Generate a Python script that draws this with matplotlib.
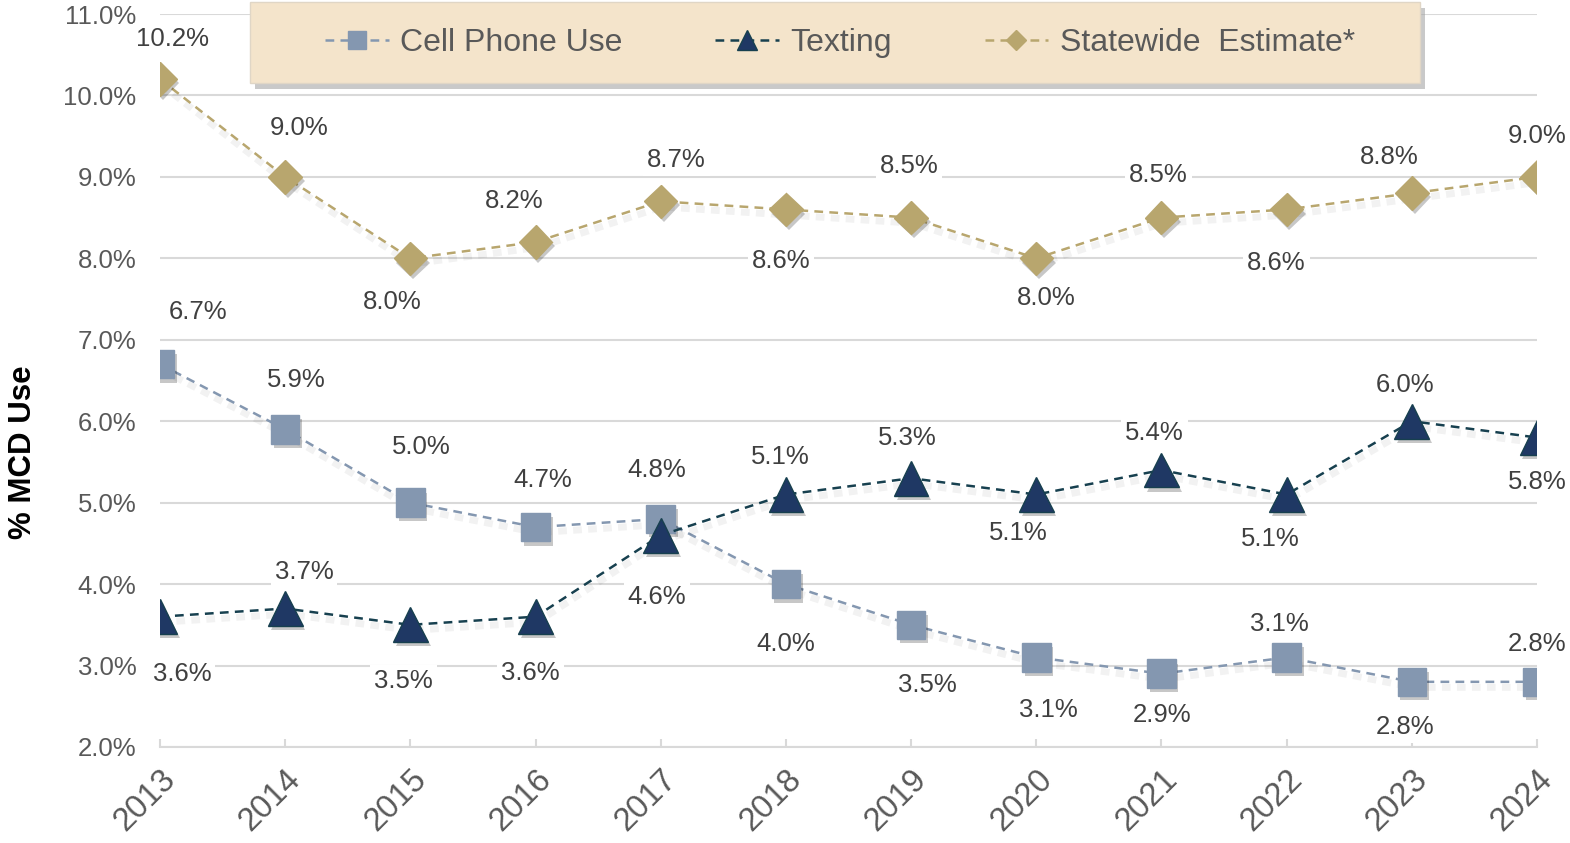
import matplotlib
matplotlib.use("Agg")
import matplotlib.pyplot as plt
import matplotlib.patheffects as pe
from matplotlib.patches import Rectangle
from matplotlib.lines import Line2D
from matplotlib.transforms import ScaledTranslation

plt.rcParams["font.family"] = ["Liberation Sans", "DejaVu Sans"]

years = [2013, 2014, 2015, 2016, 2017, 2018, 2019, 2020, 2021, 2022, 2023, 2024]
cell_phone = [6.7, 5.9, 5.0, 4.7, 4.8, 4.0, 3.5, 3.1, 2.9, 3.1, 2.8, 2.8]
texting = [3.6, 3.7, 3.5, 3.6, 4.6, 5.1, 5.3, 5.1, 5.4, 5.1, 6.0, 5.8]
statewide = [10.2, 9.0, 8.0, 8.2, 8.7, 8.6, 8.5, 8.0, 8.5, 8.6, 8.8, 9.0]

# label offsets in pixels (dx, dy; dy positive = up)
cell_off = [(38, 52), (11, 49), (11, 56), (7, 47), (-4, 49), (0, -60),
            (16, -60), (12, -53), (1, -41), (-7, 33), (-7, -45), (0, 38)]
text_off = [(22, -57), (19, 37), (-7, -56), (-5, -56), (-4, -62), (-6, 38),
            (-4, 40), (-18, -38), (-7, 37), (-16, -44), (-7, 36), (0, -44)]
state_off = [(13, 40), (14, 49), (-18, -44), (-21, 41), (16, 41), (-5, -52),
             (-2, 52), (10, -40), (-3, 43), (-10, -54), (-23, 36), (0, 41)]

C_CELL = "#8497B0"
C_TEXT_M = "#1F3864"
C_TEXT_L = "#17404F"
C_STATE = "#B8A66E"
LBL = "#404040"
TICK = "#595959"
DASH = (0, (3.5, 2.5))

fig = plt.figure(figsize=(15.7, 8.43), dpi=100)
ax = fig.add_axes([160 / 1570, 1 - 747 / 843, 1377 / 1570, 733 / 843])

line_fx = [pe.SimpleLineShadow(offset=(1, -4), shadow_color="k", alpha=0.05, linewidth=5),
           pe.Normal()]
mark_fx = [pe.SimplePatchShadow(offset=(2, -3), shadow_rgbFace="k", alpha=0.22), pe.Normal()]

series = [
    (cell_phone, C_CELL, C_CELL, C_CELL, "s", 20.5, 3, "Cell Phone Use"),
    (texting, C_TEXT_L, C_TEXT_M, C_TEXT_L, "^", 25, 4, "Texting"),
    (statewide, C_STATE, C_STATE, C_STATE, "D", 17, 3, "Statewide  Estimate*"),
]
handles = []
for vals, lc, mfc, mec, mk, ms, z, lab in series:
    ln, = ax.plot(years, vals, ls=DASH, lw=1.8, color=lc, zorder=z)
    ln.set_path_effects(line_fx)
    mk_ln, = ax.plot(years, vals, ls="none", marker=mk, ms=ms, mfc=mfc, mec=mec,
                     mew=1, zorder=z + 0.5)
    mk_ln.set_path_effects(mark_fx)
    handles.append(Line2D([], [], ls=DASH, lw=1.8, color=lc, marker=mk, ms=ms,
                          mfc=mfc, mec=mec, label=lab))

for vals, offs in [(cell_phone, cell_off), (texting, text_off), (statewide, state_off)]:
    for x, v, (dx, dy) in zip(years, vals, offs):
        ax.annotate(f"{v:.1f}%", (x, v), xytext=(dx * 0.72, dy * 0.72),
                    textcoords="offset points", ha="center", va="center",
                    fontsize=18.5, color=LBL, zorder=2,
                    bbox=dict(boxstyle="square,pad=0.15", fc="white", ec="none"))

ax.set_xlim(2013, 2024)
ax.set_ylim(2, 11)
ax.set_yticks([2, 3, 4, 5, 6, 7, 8, 9, 10, 11])
ax.set_yticklabels([f"{t:.1f}%" for t in ax.get_yticks()])
ax.set_xticks(years)
ax.set_xticklabels([str(y) for y in years], rotation=45, ha="right",
                   rotation_mode="anchor")
shift = ScaledTranslation(12 / 100, -4 / 100, fig.dpi_scale_trans)
for lbl in ax.get_xticklabels():
    lbl.set_transform(lbl.get_transform() + shift)
ax.yaxis.grid(True, color="#D9D9D9", lw=1.5, zorder=0)
ax.set_axisbelow(True)
for s in ("top", "right", "left"):
    ax.spines[s].set_visible(False)
ax.spines["bottom"].set_color("#D9D9D9")
ax.spines["bottom"].set_linewidth(1.5)
ax.tick_params(axis="y", length=0, pad=17, labelsize=18.5, labelcolor=TICK)
ax.tick_params(axis="x", direction="in", length=6, width=1.5, color="#D9D9D9",
               pad=12, labelsize=23.5, labelcolor=TICK)
ax.set_ylabel("% MCD Use", fontsize=22.5, fontweight="bold", color="black")
ax.yaxis.set_label_coords(-0.0885, 0.402)

# legend box with drop shadow
bx, by, bw, bh = 250 / 1570, 1 - 83 / 843, 1170 / 1570, 81 / 843
fig.patches.append(Rectangle((bx + 5 / 1570, by - 6 / 843), bw, bh, transform=fig.transFigure,
                             fc="#9E9E9E", ec="none", alpha=0.55, zorder=5))
fig.patches.append(Rectangle((bx, by), bw, bh, transform=fig.transFigure,
                             fc="#F4E4CB", ec="#E0D6C6", lw=1, zorder=6))
leg = fig.legend(handles=handles, loc="center", ncols=3,
                 bbox_to_anchor=(840 / 1570, 1 - 43 / 843), frameon=False,
                 fontsize=23, markerscale=0.6, handlelength=2.0, handletextpad=0.35,
                 columnspacing=2.9)
leg.set_zorder(7)
for t in leg.get_texts():
    t.set_color(TICK)

fig.savefig("out.png", dpi=100)
